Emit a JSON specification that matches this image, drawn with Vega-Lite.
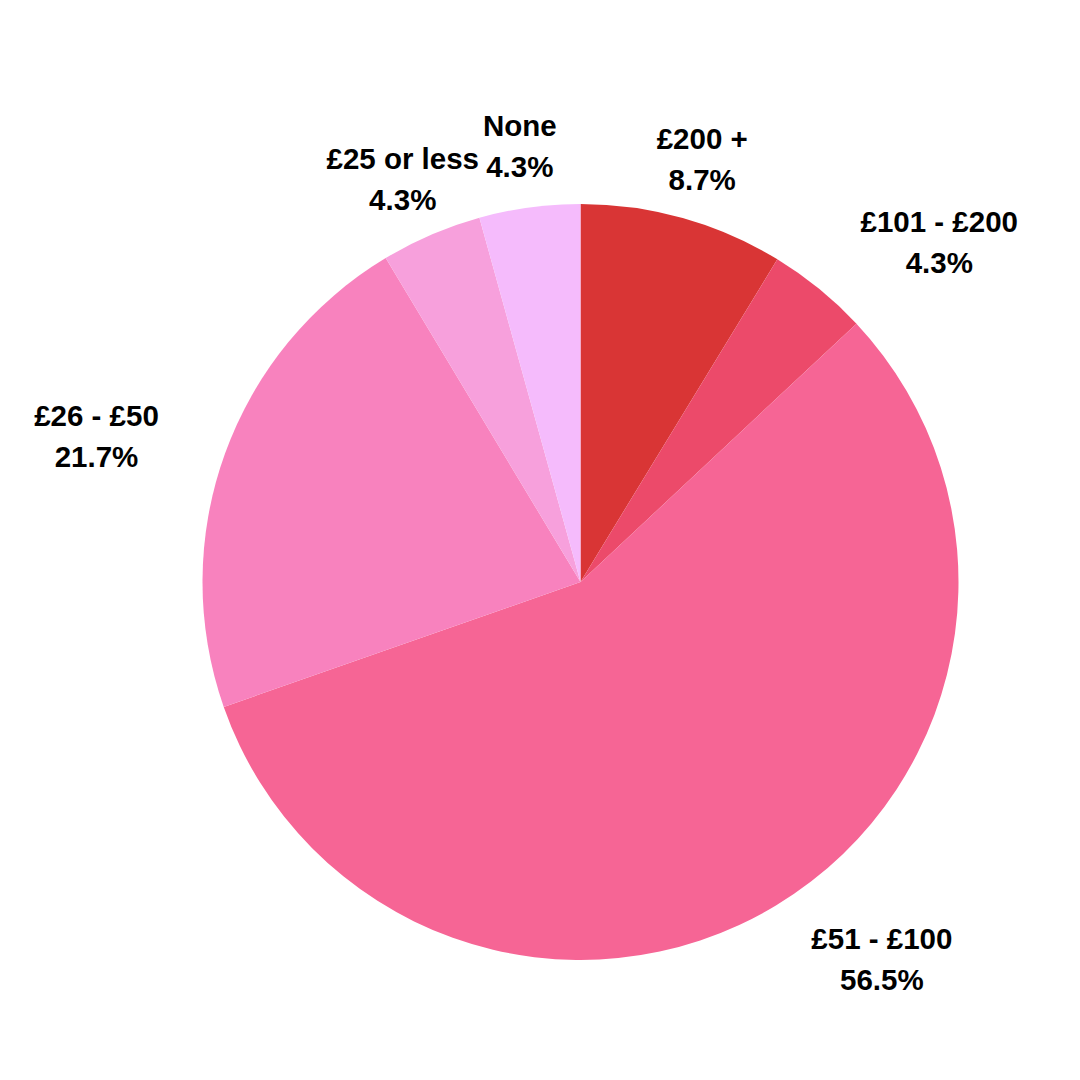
{
  "$schema": "https://vega.github.io/schema/vega-lite/v6.json",
  "autosize": {"type": "fit", "contains": "padding"},
  "width": 1080,
  "height": 1080,
  "padding": {"left": 74, "right": 0, "top": 84, "bottom": 0},
  "background": "white",
  "view": {"stroke": null},
  "data": {
    "values": [
      {"category": "£200 +", "pct": 8.7, "rank": 1, "label": "£200 +\n8.7%"},
      {"category": "£101 - £200", "pct": 4.3, "rank": 2, "label": "£101 - £200\n4.3%"},
      {"category": "£51 - £100", "pct": 56.5, "rank": 3, "label": "£51 - £100\n56.5%"},
      {"category": "£26 - £50", "pct": 21.7, "rank": 4, "label": "£26 - £50\n21.7%"},
      {"category": "£25 or less", "pct": 4.3, "rank": 5, "label": "£25 or less\n4.3%"},
      {"category": "None", "pct": 4.3, "rank": 6, "label": "None\n4.3%"}
    ]
  },
  "encoding": {
    "theta": {"field": "pct", "type": "quantitative", "stack": true},
    "order": {"field": "rank", "type": "quantitative"}
  },
  "layer": [
    {
      "mark": {"type": "arc", "radius": 378},
      "encoding": {
        "color": {
          "field": "category",
          "type": "nominal",
          "scale": {
            "domain": ["£200 +", "£101 - £200", "£51 - £100", "£26 - £50", "£25 or less", "None"],
            "range": ["#D93535", "#EC4A6A", "#F66595", "#F882BE", "#F7A0DC", "#F5BBFC"]
          },
          "legend": null
        }
      }
    },
    {
      "mark": {"type": "text", "radius": 450, "dy": -9, "font": "Liberation Sans", "fontWeight": "bold", "fontSize": 29.5, "lineBreak": "\n", "lineHeight": 41, "baseline": "middle", "align": "center", "fill": "black"},
      "encoding": {
        "text": {"condition": {"test": "datum.category == '£200 +' || datum.category == '£25 or less' || datum.category == 'None'", "field": "label"}, "value": ""}
      }
    },
    {
      "mark": {"type": "text", "radius": 462, "dx": 62, "dy": -37, "font": "Liberation Sans", "fontWeight": "bold", "fontSize": 29.5, "lineBreak": "\n", "lineHeight": 41, "baseline": "middle", "align": "center", "fill": "black"},
      "encoding": {
        "text": {"condition": {"test": "datum.category == '£51 - £100'", "field": "label"}, "value": ""}
      }
    },
    {
      "mark": {"type": "text", "radius": 505, "dx": 40, "dy": 33, "font": "Liberation Sans", "fontWeight": "bold", "fontSize": 29.5, "lineBreak": "\n", "lineHeight": 41, "baseline": "middle", "align": "center", "fill": "black"},
      "encoding": {
        "text": {"condition": {"test": "datum.category == '£101 - £200'", "field": "label"}, "value": ""}
      }
    },
    {
      "mark": {"type": "text", "radius": 505, "dx": -9, "dy": 6, "font": "Liberation Sans", "fontWeight": "bold", "fontSize": 29.5, "lineBreak": "\n", "lineHeight": 41, "baseline": "middle", "align": "center", "fill": "black"},
      "encoding": {
        "text": {"condition": {"test": "datum.category == '£26 - £50'", "field": "label"}, "value": ""}
      }
    }
  ]
}
